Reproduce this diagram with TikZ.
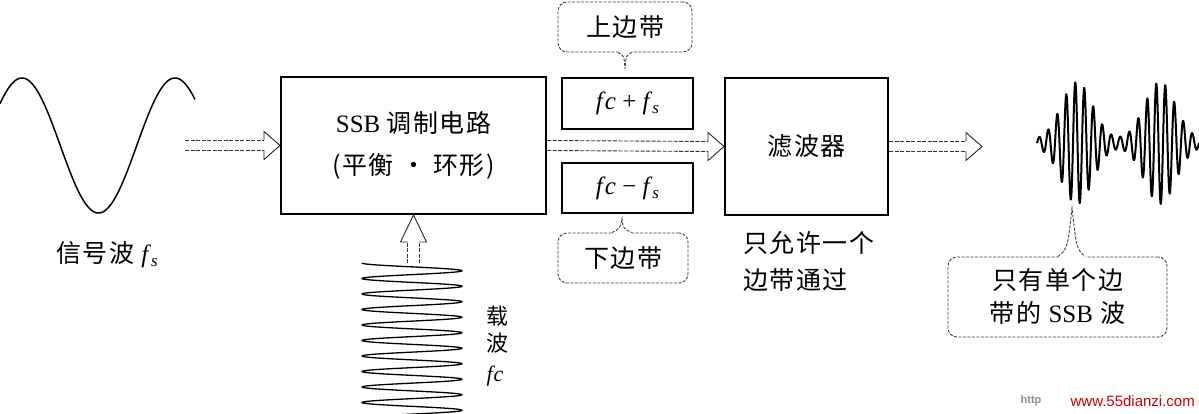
\documentclass[tikz,border=0pt]{standalone}
\usepackage{fontspec}
\setmainfont{Liberation Serif}
\newfontfamily\cjk[LetterSpace=6]{Noto Sans CJK SC}
\newfontfamily\wmfont{Liberation Sans}
\usetikzlibrary{calc}
\newcommand\mysub[1]{\raisebox{-4pt}{\fontsize{17}{17}\selectfont\textit{#1}}}
\newcommand\hollowH[2]{%
  \draw[shaftline] ($(#1)+(0,-5)$) -- ($(#2)+(-16,-5)$);
  \draw[shaftline] ($(#1)+(0,5)$) -- ($(#2)+(-16,5)$);
  \draw[headline] ($(#2)+(-16,-5)$) -- ($(#2)+(-16,-14)$) -- (#2) -- ($(#2)+(-16,14)$) -- ($(#2)+(-16,5)$);
}
\tikzset{
  blk/.style={draw=black, line width=2pt, inner sep=0pt, align=center},
  callbox/.style={draw=black!75, line width=0.9pt, dash pattern=on 3pt off 1.5pt, rounded corners=9pt, inner sep=0pt, fill=white},
  callline/.style={draw=black!75, line width=0.9pt, dash pattern=on 3pt off 1.5pt},
  shaftline/.style={line width=0.9pt, draw=black!80, dash pattern=on 4pt off 1.5pt},
  headline/.style={line width=0.9pt, draw=black!85},
  cn/.style={font=\cjk\fontsize{25}{30}\selectfont, inner sep=0pt},
  wave/.style={line width=1.5pt, line join=round}
}
\begin{document}
\begin{tikzpicture}[x=1pt, y=-1pt]
\useasboundingbox (0,0) rectangle (1199,414);
\fill[white] (0,0) rectangle (1199,414);

% signal wave
\draw[wave] plot[domain=0:195, samples=200] (\x, {145.5 - 67.5*cos((\x-22)*2.3529)});
\node[cn] (siglab) at (107,255) {信号波 {\rmfamily\textit{f}\mysub{s}}};

% blocks
\node[blk, minimum width=265pt, minimum height=137pt, font=\fontsize{25}{42}\selectfont] (ssb) at (413.5,145.5)
  {SSB {\cjk 调制电路}\\{\cjk (平衡 · 环形)}};
\node[blk, minimum width=131pt, minimum height=51pt, font=\fontsize{25}{30}\selectfont] (fcp) at (627.5,103.5)
  {\textit{f\kern2pt c} + \textit{f}\mysub{s}};
\node[blk, minimum width=131pt, minimum height=50pt, font=\fontsize{25}{30}\selectfont] (fcm) at (627.5,188)
  {\textit{f\kern2pt c} − \textit{f}\mysub{s}};
\node[blk, minimum width=163pt, minimum height=137pt, font=\cjk\fontsize{25}{30}\selectfont] (filt) at (806.5,146.5) {滤波器};

% arrows
\coordinate (inS) at (185,145.5);
\coordinate (outE) at (982,146.5);
\hollowH{inS}{ssb.west}
\hollowH{ssb.east}{filt.west}
\hollowH{filt.east}{outE}

% callouts for sidebands
\node[callbox, minimum width=134pt, minimum height=50pt, font=\cjk\fontsize{25}{30}\selectfont] (up) at (625,27) {上边带};
\coordinate (tipU) at ($(fcp.north)+(-2.5,-8)$);
\fill[white] ($(up.south)+(-7,-2)$) rectangle ($(up.south)+(7,2)$);
\draw[callline] ($(up.south)+(-7,0)$) .. controls ($(up.south)+(-1,3)$) .. (tipU)
  .. controls ($(up.south)+(1,3)$) .. ($(up.south)+(7,0)$);

\node[callbox, minimum width=130pt, minimum height=50pt, font=\cjk\fontsize{25}{30}\selectfont] (dn) at (623,258) {下边带};
\coordinate (tipD) at ($(fcm.south)+(-5.5,4.5)$);
\fill[white] ($(dn.north)+(-11,-2)$) rectangle ($(dn.north)+(9,2)$);
\draw[callline] ($(dn.north)+(-11,0)$) .. controls ($(dn.north)+(-3,-4)$) .. (tipD)
  .. controls ($(dn.north)+(-0,-4)$) .. ($(dn.north)+(9,0)$);

% filter label
\node[cn, anchor=west] (fl1) at (743,243) {只允许一个};
\node[cn, anchor=west] (fl2) at (743,280) {边带通过};

% carrier
\draw[line width=1.3pt, line join=round] plot[domain=0:9.8, samples=900] ({412 - 50*cos(\x*360)}, {263 + 15.5*\x});
\coordinate (carT) at (413.5,263);
\draw[shaftline] ($(carT)+(-6,0)$) -- ($(ssb.south)+(-6,27)$);
\draw[shaftline] ($(carT)+(6,0)$) -- ($(ssb.south)+(6,27)$);
\draw[headline] ($(ssb.south)+(-6,27)$) -- ($(ssb.south)+(-13,27)$) -- (ssb.south) -- ($(ssb.south)+(13,27)$) -- ($(ssb.south)+(6,27)$);
\node[cn, font=\cjk\fontsize{22}{26}\selectfont] (cw1) at (497,316) {载};
\node[cn, font=\cjk\fontsize{22}{26}\selectfont] (cw2) at (497,343) {波};
\node[inner sep=0pt, font=\fontsize{22}{26}\selectfont] (cw3) at (495,376) {\textit{f\kern1pt c}};

% SSB output wave
\draw[line width=2pt, line join=round] plot[domain=1037:1199, samples=700]
  (\x, {143 - (3 + 58*exp(-((\x-1077)/22)^2) + 58*exp(-((\x-1160)/22)^2))*sin((\x-1037)*40)});

% output callout
\node[callbox, minimum width=219pt, minimum height=80pt, align=center, font=\cjk\fontsize{25}{33}\selectfont] (sc) at (1057.5,297)
  {只有单个边\\带的 {\fontspec{Liberation Serif}SSB} 波};
\coordinate (wtip) at (1072,208);
\fill[white] ($(sc.north)+(0,-2)$) rectangle ($(sc.north)+(28,2)$);
\draw[callline] ($(sc.north)+(0.5,0)$) .. controls ($(sc.north)+(10,-8)$) .. (wtip)
  .. controls ($(sc.north)+(19,-8)$) .. ($(sc.north)+(27.5,0)$);

% watermark
\node[inner sep=0pt, text=black!45, font=\wmfont\bfseries\fontsize{11}{12}\selectfont] (wm1) at (1031,401) {http};
\node[inner sep=0pt, text=red!80!black, font=\wmfont\fontsize{15}{16}\selectfont, anchor=east] (wm2) at (1195,401) {www.55dianzi.com};
\end{tikzpicture}
\end{document}
